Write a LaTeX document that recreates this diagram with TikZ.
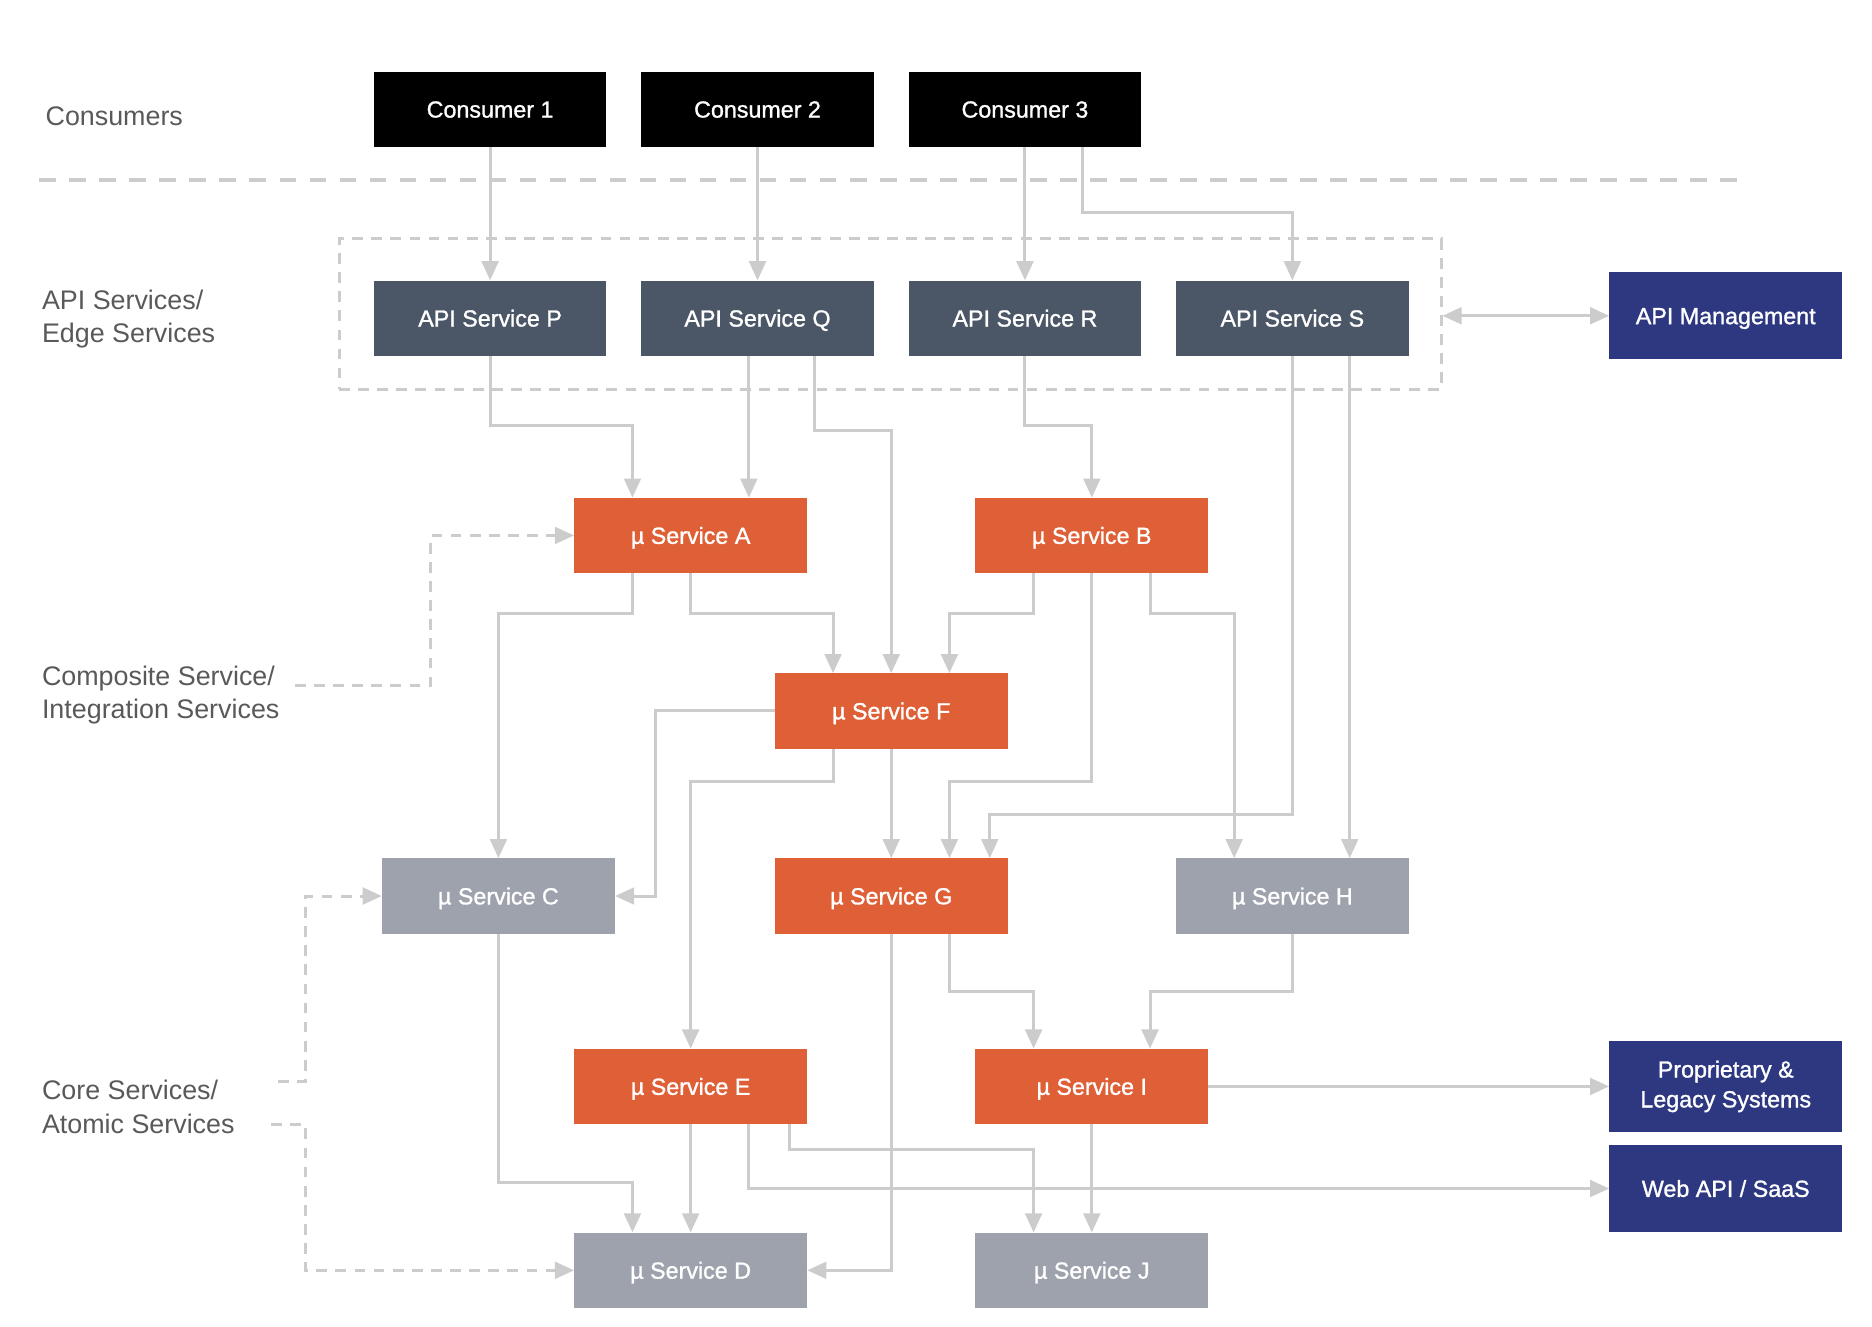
\documentclass[tikz,border=0pt]{standalone}
\usepackage{fontspec}
\setmainfont{Liberation Sans}
\newfontfamily\boxfnt[FakeBold=1.2]{Liberation Sans}
\usetikzlibrary{arrows.meta}
\definecolor{lineg}{HTML}{CCCCCC}
\definecolor{labg}{HTML}{58595B}
\definecolor{slate}{HTML}{4B5767}
\definecolor{orng}{HTML}{DF6037}
\definecolor{svgray}{HTML}{9EA2AD}
\definecolor{navy}{HTML}{2D3881}
\tikzset{
  box/.style={minimum width=195pt, minimum height=63pt, inner sep=0pt, text=white,
    font=\boxfnt\fontsize{19.5}{25}\selectfont, align=center},
  oneline/.style={text height=14pt, text depth=0pt},
  consumer/.style={box, oneline, fill=black},
  apibox/.style={box, oneline, fill=slate},
  orbox/.style={box, oneline, fill=orng},
  grbox/.style={box, oneline, fill=svgray},
  nvbox/.style={box, fill=navy},
  lab/.style={anchor=west, inner sep=0pt, text=labg, align=left,
    font=\fontsize{22.5}{28}\selectfont},
  tip/.style={Triangle[length=16pt,width=14pt]},
  conn/.style={draw=lineg, line width=2.5pt, -{Triangle[length=16pt,width=14pt]}},
  dconn/.style={draw=lineg, line width=2.5pt, dash pattern=on 9pt off 7pt,
    -{Triangle[length=16pt,width=14pt]}},
  dframe/.style={draw=lineg, line width=2.5pt, dash pattern=on 9pt off 7pt}
}
\begin{document}
\begin{tikzpicture}[x=1pt,y=-1pt]
\useasboundingbox (0,0) rectangle (1568,1111);
% labels
\node[lab] (lcons) at (38,97) {Consumers};
\node[lab] (lapi) at (35,267) {API Services/\\Edge Services};
\node[lab] (lcomp) at (35,582) {Composite Service/\\Integration Services};
\node[lab] (lcore) at (35,927) {Core Services/\\Atomic Services};
% divider
\coordinate (dl) at (33,151);
\coordinate (dr) at (1455,151);
\draw[draw=lineg, line width=3.5pt, dash pattern=on 14pt off 11.14pt] (dl) -- (dr);
% edge frame
\node[dframe, minimum width=923pt, minimum height=126pt, inner sep=0pt] (edge) at (745.5,263) {};
% consumers
\node[consumer] (C1) at (410.5,91.5) {Consumer 1};
\node[consumer] (C2) at (634.5,91.5) {Consumer 2};
\node[consumer] (C3) at (858.5,91.5) {Consumer 3};
% api
\node[apibox] (P) at (410.5,266.5) {API Service P};
\node[apibox] (Q) at (634.5,266.5) {API Service Q};
\node[apibox] (R) at (858.5,266.5) {API Service R};
\node[apibox] (S) at (1082.5,266.5) {API Service S};
\node[nvbox, oneline, minimum height=73pt] (APIM) at (1445.5,264.5) {API Management};
% micro services
\node[orbox] (A) at (578.5,448.5) {µ Service A};
\node[orbox] (B) at (914.5,448.5) {µ Service B};
\node[orbox] (F) at (746.5,595.5) {µ Service F};
\node[grbox] (C) at (417.5,750.5) {µ Service C};
\node[orbox] (G) at (746.5,750.5) {µ Service G};
\node[grbox] (H) at (1082.5,750.5) {µ Service H};
\node[orbox] (E) at (578.5,910) {µ Service E};
\node[orbox] (I) at (914.5,910) {µ Service I};
\node[grbox] (D) at (578.5,1064) {µ Service D};
\node[grbox] (J) at (914.5,1064) {µ Service J};
\node[nvbox, minimum height=76pt] (Prop) at (1445.5,910) {Proprietary \&\\Legacy Systems};
\node[nvbox, oneline, minimum height=73pt] (Web) at (1445.5,995.5) {Web API / SaaS};
% consumer -> api
\draw[conn] (C1.south) -- (P.north);
\draw[conn] (C2.south) -- (Q.north);
\draw[conn] (C3.south) -- (R.north);
\draw[conn] ([xshift=48pt]C3.south) -- ++(0,55) -| (S.north);
\draw[draw=lineg, line width=2.5pt, {Triangle[length=16pt,width=14pt]}-{Triangle[length=16pt,width=14pt]}] (edge.east |- APIM.west) -- (APIM.west);
% api -> services
\draw[conn] (P.south) -- ++(0,58) -| ([xshift=-48.75pt]A.north);
\draw[conn] ([xshift=-7.25pt]Q.south) -- ([xshift=48.75pt]A.north);
\draw[conn] ([xshift=47.5pt]Q.south) -- ++(0,62) -| (F.north);
\draw[conn] (R.south) -- ++(0,58) -| (B.north);
\draw[conn] (S.south) -- ++(0,384) -| ([xshift=82.5pt]G.north);
\draw[conn] ([xshift=48pt]S.south) -- ([xshift=48pt]H.north);
% A, B
\draw[conn] ([xshift=-48.75pt]A.south) -- ++(0,34) -| (C.north);
\draw[conn] (A.south) -- ++(0,34) -| ([xshift=-48.75pt]F.north);
\draw[conn] ([xshift=-48.75pt]B.south) -- ++(0,34) -| ([xshift=48.75pt]F.north);
\draw[conn] (B.south) -- ++(0,174) -| ([xshift=48.75pt]G.north);
\draw[conn] ([xshift=48.75pt]B.south) -- ++(0,34) -| ([xshift=-48.75pt]H.north);
% F
\draw[conn] (F.west) -- ++(-100,0) |- (C.east);
\draw[conn] ([xshift=-48.75pt]F.south) -- ++(0,27) -| (E.north);
\draw[conn] (F.south) -- (G.north);
% H, G
\draw[conn] (H.south) -- ++(0,48) -| ([xshift=48.75pt]I.north);
\draw[conn] ([xshift=48.75pt]G.south) -- ++(0,48) -| ([xshift=-48.75pt]I.north);
\draw[conn] (G.south) |- (D.east);
% C, E, I
\draw[conn] (C.south) -- ++(0,208) -| ([xshift=-48.75pt]D.north);
\draw[conn] (E.south) -- (D.north);
\draw[conn] ([xshift=48.75pt]E.south) |- (Web.west);
\draw[conn] ([xshift=83pt]E.south) -- ++(0,21) -| ([xshift=-48.75pt]J.north);
\draw[conn] (I.south) -- (J.north);
\draw[conn] (I.east) -- (Prop.west);
% dashed label connectors
\coordinate (compend) at (247,574);
\coordinate (core1) at (233,906);
\coordinate (core2) at (227,942);
\draw[dconn] (compend) -| ([xshift=-120pt]A.west) -- (A.west);
\draw[dconn] (core1) -| ([xshift=-64pt]C.west) -- (C.west);
\draw[dconn] (core2) -| ([xshift=-225pt]D.west) -- (D.west);
\end{tikzpicture}
\end{document}
